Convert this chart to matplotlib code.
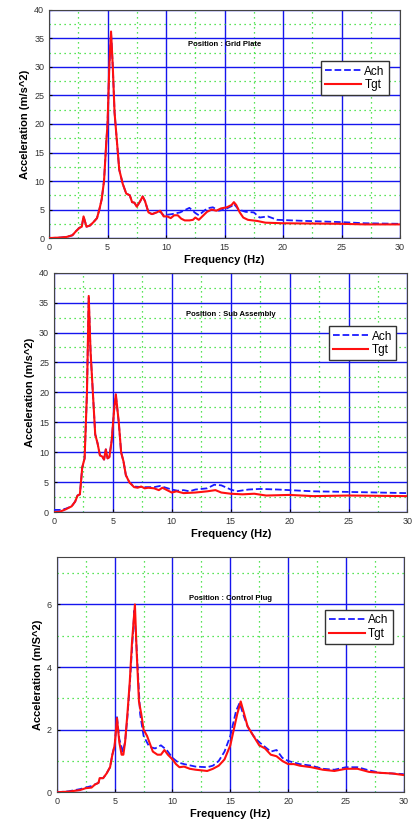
import matplotlib.pyplot as plt
from matplotlib.ticker import MultipleLocator

plt.rcParams['font.family'] = ['Liberation Sans', 'DejaVu Sans']

# ---- Grid Plate ----
gp_f_tgt = [0, 1, 1.5, 2, 2.3, 2.6, 2.8, 2.95, 3.2, 3.5, 3.8, 4.1, 4.3, 4.5, 4.7, 4.9, 5.0, 5.15, 5.3,
            5.45, 5.6, 5.8, 6.0, 6.3, 6.6, 6.9, 7.1, 7.3, 7.5, 7.8, 8.0, 8.2, 8.5, 8.8, 9.2, 9.5, 9.8,
            10.1, 10.4, 10.7, 11.0, 11.3, 11.6, 12.0, 12.3, 12.5, 12.8, 13.2, 13.5, 13.9, 14.3, 14.7,
            15.2, 15.6, 15.8, 16.0, 16.3, 16.6, 17.0, 17.8, 18.5, 20, 25, 27, 30]
gp_tgt = [0, 0.1, 0.2, 0.5, 1.2, 1.8, 2.0, 3.8, 2.0, 2.2, 2.8, 3.5, 5.0, 6.8, 10, 17, 20, 30, 36.2,
          30, 22, 17, 12, 9.5, 7.8, 7.5, 6.3, 6.2, 5.5, 6.5, 7.3, 6.5, 4.5, 4.2, 4.5, 4.8, 3.8,
          3.8, 3.5, 4.0, 4.0, 3.4, 3.1, 3.1, 3.2, 3.6, 3.2, 4.0, 4.6, 5.0, 4.8, 5.2,
          5.4, 5.8, 6.3, 5.8, 4.5, 3.6, 3.2, 3.0, 2.7, 2.6, 2.5, 2.4, 2.4]
gp_f_ach = [0, 1, 1.5, 2, 2.3, 2.6, 2.8, 2.95, 3.2, 3.5, 3.8, 4.1, 4.3, 4.5, 4.7, 4.9, 5.0, 5.15, 5.3,
            5.45, 5.6, 5.8, 6.0, 6.3, 6.6, 6.9, 7.1, 7.3, 7.5, 7.8, 8.0, 8.2, 8.5, 8.8, 9.2, 9.5, 9.8,
            10.5, 11.2, 12.0, 12.5, 12.8, 13.5, 14.0, 14.5, 15.0, 15.6, 15.8, 16.2, 16.8, 17.5, 18.0,
            18.7, 19.5, 22, 25, 27, 30]
gp_ach = [0, 0.1, 0.2, 0.5, 1.2, 1.8, 2.0, 3.8, 2.0, 2.2, 2.8, 3.5, 5.0, 6.8, 10, 17, 20, 30, 36.0,
          30, 22, 17, 12, 9.5, 7.8, 7.5, 6.3, 6.2, 5.5, 6.5, 7.3, 6.5, 4.5, 4.2, 4.5, 4.6, 4.0,
          4.2, 4.5, 5.3, 4.4, 4.0, 5.2, 5.4, 4.8, 5.0, 5.6, 6.0, 5.0, 4.6, 4.5, 3.6,
          3.8, 3.2, 3.0, 2.8, 2.6, 2.5]

# ---- Sub Assembly ----
sa_f_tgt = [0, 0.5, 1, 1.5, 1.8, 2.0, 2.2, 2.4, 2.6, 2.8, 2.95, 3.1, 3.3, 3.5, 3.7, 3.9, 4.1, 4.25,
            4.4, 4.55, 4.7, 4.9, 5.1, 5.25, 5.5, 5.7, 5.9, 6.1, 6.4, 6.8, 7.1, 7.4, 7.7, 8.0, 8.5,
            8.9, 9.2, 9.6, 10.0, 10.4, 11, 12, 13, 13.7, 14.2, 15, 16, 17, 18, 20, 22, 25, 30]
sa_tgt = [0, 0.1, 0.5, 1.0, 1.8, 2.8, 3.0, 7.5, 9, 20, 36.1, 27, 20, 13, 11.5, 9.5, 9.3, 8.8,
          10.5, 9.0, 9.2, 12, 17, 19.7, 15, 10, 8.5, 6.2, 5.0, 4.2, 4.1, 4.3, 4.0, 4.1, 4.0,
          3.7, 4.1, 3.7, 3.3, 3.5, 3.2, 3.3, 3.5, 3.7, 3.3, 3.1, 3.0, 3.1, 2.8, 2.9, 2.7, 2.8, 2.7]
sa_f_ach = [0, 0.5, 1, 1.5, 1.8, 2.0, 2.2, 2.4, 2.6, 2.8, 2.95, 3.1, 3.3, 3.5, 3.7, 3.9, 4.1, 4.25,
            4.4, 4.55, 4.7, 4.9, 5.1, 5.25, 5.5, 5.7, 5.9, 6.1, 6.4, 6.8, 7.5, 8.5, 9.0, 10.0, 10.5,
            11.0, 11.5, 12.0, 13.0, 13.6, 14.2, 15.0, 15.5, 16.5, 17.5, 19, 20, 22, 25, 30]
sa_ach = [0.4, 0.4, 0.6, 1.0, 1.8, 2.8, 3.0, 7.5, 9, 20, 35.8, 27, 20, 13, 11.5, 9.5, 9.3, 8.8,
          10.5, 9.0, 9.2, 12, 17, 19.5, 15, 10, 8.5, 6.2, 5.0, 4.3, 4.2, 4.2, 4.4, 3.8, 3.6,
          3.7, 3.5, 3.8, 4.0, 4.6, 4.5, 3.8, 3.5, 3.8, 3.9, 3.8, 3.7, 3.5, 3.4, 3.2]

# ---- Control Plug ----
cp_f_tgt = [0, 1, 2, 2.5, 3, 3.3, 3.6, 3.7, 4, 4.3, 4.6, 4.8, 5.0, 5.2, 5.4, 5.6, 5.75, 5.9, 6.1,
            6.3, 6.5, 6.75, 6.9, 7.1, 7.3, 7.5, 7.8, 8.0, 8.3, 8.7, 9.0, 9.3, 9.6, 10, 10.3, 10.6,
            11, 11.5, 12, 12.5, 13, 13.5, 14, 14.5, 15, 15.3, 15.6, 15.9, 16.2, 16.5, 17, 17.5,
            18, 18.5, 19, 19.5, 20, 20.5, 21, 22, 23, 24, 25, 26, 27, 28, 29, 30]
cp_tgt = [0, 0.02, 0.07, 0.13, 0.15, 0.25, 0.3, 0.45, 0.45, 0.6, 0.8, 1.2, 1.5, 2.37, 1.6, 1.2, 1.2,
          1.6, 2.5, 3.5, 4.8, 6.0, 4.5, 2.9, 2.5, 2.0, 1.8, 1.6, 1.3, 1.2, 1.2, 1.35, 1.2, 1.05, 0.9,
          0.8, 0.82, 0.75, 0.72, 0.7, 0.68, 0.75, 0.85, 1.05, 1.5, 2.0, 2.5, 2.9, 2.5, 2.1, 1.8,
          1.5, 1.4, 1.2, 1.15, 1.0, 0.9, 0.9, 0.85, 0.8, 0.72, 0.68, 0.75, 0.75, 0.65, 0.62, 0.6, 0.55]
cp_f_ach = [0, 1, 2, 2.5, 3, 3.3, 3.6, 3.7, 4, 4.3, 4.6, 4.8, 5.0, 5.2, 5.4, 5.7, 5.9, 6.1, 6.3,
            6.5, 6.7, 6.9, 7.2, 7.5, 8, 8.5, 9, 9.5, 10, 10.5, 11, 12, 13, 13.5, 14, 14.5, 15, 15.5,
            15.8, 16.2, 16.5, 17, 17.5, 18, 18.5, 19, 19.5, 20, 21, 22, 23, 24, 25, 26, 27, 28, 30]
cp_ach = [0, 0.03, 0.1, 0.15, 0.2, 0.25, 0.3, 0.45, 0.45, 0.6, 0.8, 1.2, 1.5, 2.4, 1.7, 1.3, 1.6,
          2.4, 3.4, 4.6, 5.8, 4.6, 2.5, 1.8, 1.45, 1.4, 1.5, 1.35, 1.1, 0.95, 0.9, 0.82, 0.8, 0.85,
          1.0, 1.3, 1.8, 2.6, 2.85, 2.4, 2.1, 1.8, 1.6, 1.45, 1.3, 1.35, 1.1, 1.0, 0.9, 0.85, 0.75,
          0.72, 0.8, 0.8, 0.7, 0.62, 0.58]

panels = [
    (gp_f_ach, gp_ach, gp_f_tgt, gp_tgt, 'Position : Grid Plate', 'Acceleration (m/s^2)',
     [0.119, 0.710, 0.852, 0.278], 40, 5, 34),
    (sa_f_ach, sa_ach, sa_f_tgt, sa_tgt, 'Position : Sub Assembly', 'Acceleration (m/s^2)',
     [0.131, 0.376, 0.858, 0.292], 40, 5, 33),
    (cp_f_ach, cp_ach, cp_f_tgt, cp_tgt, 'Position : Control Plug', 'Acceleration (m/S^2)',
     [0.138, 0.035, 0.842, 0.286], 7.5, 2, 6.2),
]

fig = plt.figure(figsize=(4.12, 8.21), dpi=100)

for fa, ya, ft, yt, title, ylab, pos, ymax, ystep, ty in panels:
    ax = fig.add_axes(pos)
    ax.set_xlim(0, 30)
    ax.set_ylim(0, ymax)
    ax.xaxis.set_major_locator(MultipleLocator(5))
    ax.xaxis.set_minor_locator(MultipleLocator(2.5))
    ax.yaxis.set_major_locator(MultipleLocator(ystep))
    ax.yaxis.set_minor_locator(MultipleLocator(ystep / 2))
    ax.grid(which='major', color='#1515ee', linewidth=1.0, linestyle='-')
    ax.grid(which='minor', color='#22dd22', linewidth=0.9, linestyle=(0, (1, 3)))
    ax.set_axisbelow(True)
    for s in ax.spines.values():
        s.set_color('#444444')
    ax.plot(fa, ya, color='#1a1aff', linestyle='--', linewidth=1.3, label='Ach', zorder=3)
    ax.plot(ft, yt, color='#ff1010', linestyle='-', linewidth=1.5, label='Tgt', zorder=4)
    ax.tick_params(which='both', direction='in', labelsize=6.5, length=2, labelcolor='#333333')
    ax.tick_params(which='minor', length=0)
    ax.set_xlabel('Frequency (Hz)', fontsize=8, fontweight='bold', labelpad=2)
    ax.set_ylabel(ylab, fontsize=8, fontweight='bold', labelpad=3)
    ax.text(15, ty, title, fontsize=5.5, fontweight='bold', ha='center', va='center')
    ax.legend(loc='upper right', bbox_to_anchor=(0.985, 0.8), fontsize=8.5, fancybox=False,
              edgecolor='#333333', framealpha=1, handlelength=3.0, borderpad=0.35,
              labelspacing=0.15, handletextpad=0.3)

fig.savefig('out.png', dpi=100)
